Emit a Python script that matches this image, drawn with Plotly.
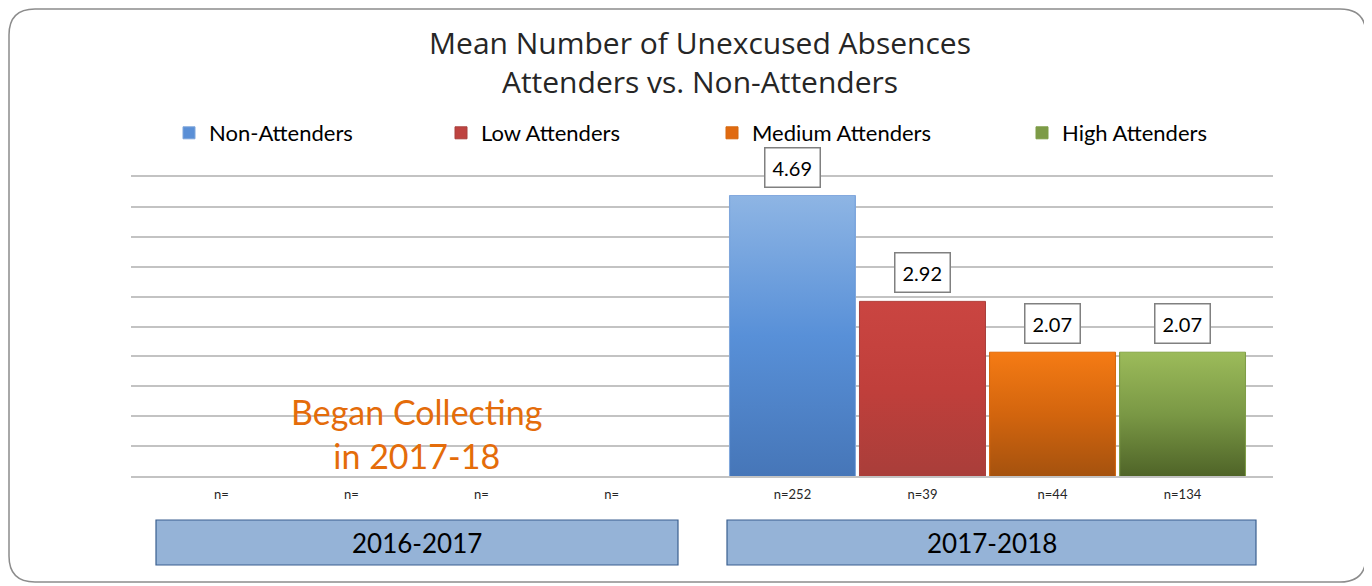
import base64
import plotly.graph_objects as go

# ---------------- data ----------------
categories = ["2016-2017", "2017-2018"]
series_names = ["Non-Attenders", "Low Attenders", "Medium Attenders", "High Attenders"]
non_attenders = [None, 4.69]
low_attenders = [None, 2.92]
medium_attenders = [None, 2.07]
high_attenders = [None, 2.07]
n_non = ["n=", "n=252"]
n_low = ["n=", "n=39"]
n_medium = ["n=", "n=44"]
n_high = ["n=", "n=134"]
title_lines = ["Mean Number of Unexcused Absences", "Attenders vs. Non-Attenders"]
note_text = "Began Collecting<br>in 2017-18"

series_values = [non_attenders, low_attenders, medium_attenders, high_attenders]
series_n = [n_non, n_low, n_medium, n_high]

# ---------------- layout geometry (page is offset 8px by body margin) ----------------
FONT = "Lato"
OFF = 8
W, H = 1372 - OFF, 586 - OFF
PLOT_L, PLOT_R, PLOT_T, PLOT_B = 131, 1273, 177, 476      # window pixels
ML = PLOT_L - OFF
MR = W - (PLOT_R - OFF)
MB = H - (PLOT_B - OFF)
MT = 5
PW = W - ML - MR
PH = H - MT - MB
DOMAIN_TOP = (PLOT_B - PLOT_T) / PH


def fx(wx):
    return (wx - PLOT_L) / PW


def fy(wy):
    return (PLOT_B - wy) / PH


SLOT = 0.2277
BAR_W = 0.2207
GRID = "#C3C3C3"

solid = ["#5A8FD6", "#BE4340", "#E06A10", "#7D9B47"]
edge = ["#7FA6DB", "#A8403C", "#D5690F", "#7E9D46"]
grad = [
    ("#8EB5E4", "#5890D8", "#4676B8"),
    ("#CA4541", "#C03F3B", "#A93E3A"),
    ("#F57B14", "#D3650E", "#A5520E"),
    ("#9CBB5A", "#7A9845", "#4F6428"),
]
legend_text_px = [209, 481, 752, 1062]


def grad_uri(c):
    svg = (
        '<svg xmlns="http://www.w3.org/2000/svg" width="10" height="100" '
        'viewBox="0 0 10 100" preserveAspectRatio="none">'
        '<defs><linearGradient id="g" x1="0" y1="0" x2="0" y2="1">'
        f'<stop offset="0" stop-color="{c[0]}"/>'
        f'<stop offset="0.5" stop-color="{c[1]}"/>'
        f'<stop offset="1" stop-color="{c[2]}"/>'
        '</linearGradient></defs>'
        '<rect x="0" y="0" width="10" height="100" fill="url(#g)"/></svg>'
    )
    return "data:image/svg+xml;base64," + base64.b64encode(svg.encode()).decode()


fig = go.Figure()
images = []
annotations = []
tickvals, ticktext = [], []

for s, (name, vals, ns) in enumerate(zip(series_names, series_values, series_n)):
    xs = [ci + (s - 1.5) * SLOT for ci in range(len(categories))]
    leg = "legend" if s == 0 else f"legend{s + 1}"
    fig.add_trace(go.Bar(
        x=xs, y=vals, width=BAR_W, name=name, legend=leg,
        marker=dict(color=solid[s], line=dict(color=edge[s], width=1)),
        hoverinfo="skip",
    ))
    tickvals += xs
    ticktext += ns
    for x, v in zip(xs, vals):
        if v is None:
            continue
        images.append(dict(
            source=grad_uri(grad[s]), xref="x", yref="y",
            x=x - BAR_W / 2 + 0.001, y=v, sizex=BAR_W - 0.002, sizey=v,
            xanchor="left", yanchor="top", sizing="stretch", layer="above",
        ))
        annotations.append(dict(
            x=x, y=v, xref="x", yref="y", text=f"{v:.2f}", showarrow=False,
            xanchor="center", yanchor="bottom", yshift=8,
            font=dict(family=FONT, size=20, color="#000000"),
            bgcolor="#FFFFFF", bordercolor="#808080", borderwidth=1.5, borderpad=7,
        ))

# note text in the first category
annotations.append(dict(
    x=0, y=fy(433), xref="x", yref="paper", text=note_text, showarrow=False,
    xanchor="center", yanchor="middle",
    font=dict(family=FONT, size=34, color="#E46C0A"), align="center",
))

# category boxes under the axis
shapes = []
box_px = [(156, 678), (727, 1256)]
for (x0p, x1p), cat in zip(box_px, categories):
    x0, x1 = fx(x0p), fx(x1p)
    y0, y1 = fy(565), fy(520)
    shapes.append(dict(type="rect", xref="paper", yref="paper", x0=x0, x1=x1, y0=y0, y1=y1,
                       fillcolor="#95B3D7", line=dict(color="#3A5F8F", width=1.2), layer="above"))
    annotations.append(dict(x=(x0 + x1) / 2, y=(y0 + y1) / 2, xref="paper", yref="paper",
                            text=cat, showarrow=False, xanchor="center", yanchor="middle",
                            font=dict(family=FONT, size=26, color="#000000")))

# outer rounded frame (window pixels)
L, R, T, B, RAD = OFF + 1, 1366, OFF + 1, 582, 26
path = (
    f"M {fx(L + RAD)},{fy(T)} L {fx(R - RAD)},{fy(T)} Q {fx(R)},{fy(T)} {fx(R)},{fy(T + RAD)} "
    f"L {fx(R)},{fy(B - RAD)} Q {fx(R)},{fy(B)} {fx(R - RAD)},{fy(B)} "
    f"L {fx(L + RAD)},{fy(B)} Q {fx(L)},{fy(B)} {fx(L)},{fy(B - RAD)} "
    f"L {fx(L)},{fy(T + RAD)} Q {fx(L)},{fy(T)} {fx(L + RAD)},{fy(T)} Z"
)
shapes.append(dict(type="path", xref="paper", yref="paper", path=path,
                   line=dict(color="#8C8C8C", width=1.5), layer="below"))

legend_common = dict(orientation="h", yanchor="middle", y=fy(133), xanchor="left",
                     font=dict(family=FONT, size=22, color="#000000"),
                     bgcolor="rgba(0,0,0,0)", itemwidth=30, tracegroupgap=0)
legends = {}
for i, tx in enumerate(legend_text_px):
    key = "legend" if i == 0 else f"legend{i + 1}"
    legends[key] = dict(x=fx(tx - 40), **legend_common)

fig.update_layout(
    width=W, height=H,
    margin=dict(l=ML, r=MR, t=MT, b=MB),
    paper_bgcolor="#FFFFFF", plot_bgcolor="#FFFFFF",
    barmode="overlay",
    title=dict(text="<br>".join(title_lines), x=(700 - OFF) / W, xanchor="center",
               xref="container", y=1 - (54 - OFF) / H, yanchor="middle", yref="container",
               font=dict(family="Open Sans", size=30, color="#262626")),
    xaxis=dict(range=[-0.5, 1.5], tickvals=tickvals, ticktext=ticktext, showgrid=False,
               zeroline=False, showline=True, linecolor=GRID, linewidth=1.5, mirror=True,
               ticks="", ticklabelstandoff=6,
               tickfont=dict(family=FONT, size=13, color="#262626")),
    yaxis=dict(range=[0, 5], dtick=0.5, domain=[0, DOMAIN_TOP], showticklabels=False,
               showgrid=True, gridcolor=GRID, gridwidth=1.5, zeroline=False, showline=False),
    images=images, annotations=annotations, shapes=shapes,
    showlegend=True,
    **legends,
)

fig.write_html("out.html")
